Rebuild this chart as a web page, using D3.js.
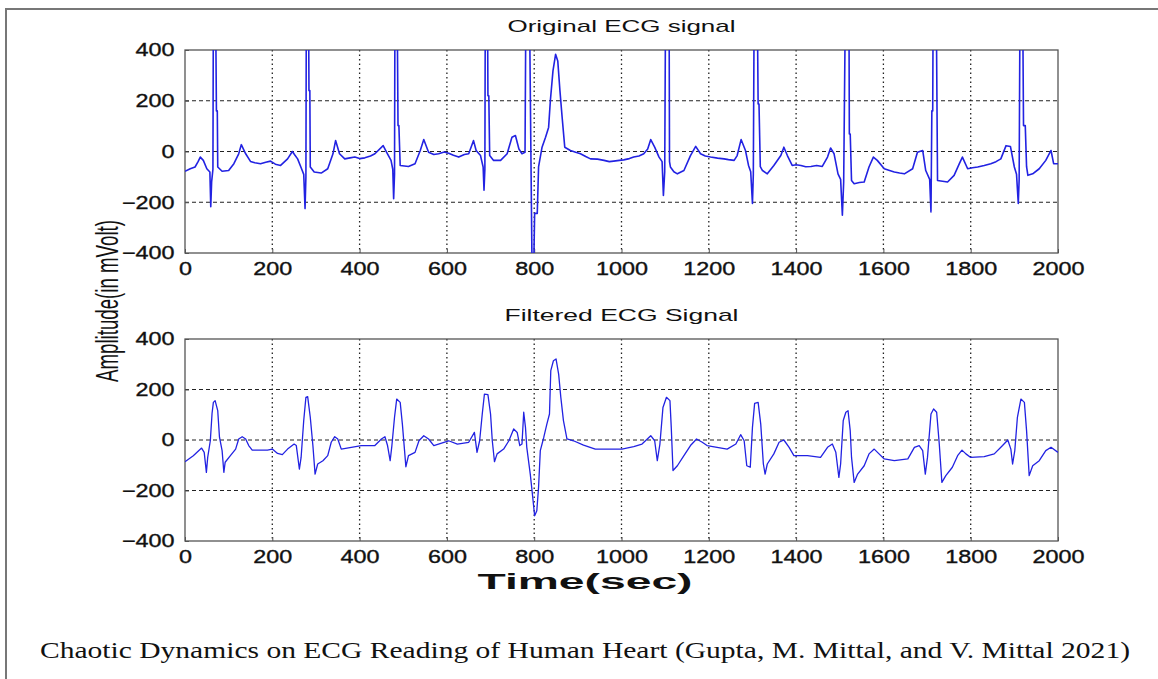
<!DOCTYPE html>
<html>
<head>
<meta charset="utf-8">
<script src="https://cdn.jsdelivr.net/npm/d3@7"></script>
<style>
body { margin: 0; background: #fff; }
.tick text { font-family: "Liberation Sans", Arial, sans-serif; font-size: 18px; fill: #111; stroke: #111; stroke-width: 0.35px; }
</style>
</head>
<body>
<script>
// values (time in samples, amplitude in mV)
var origTime = [0,12,23,30,35,42,50,57,59,61,64,65,70,72,74,75,85,100,112,123,129,139,150,160,173,185,196,207,219,235,246,252,258,267,272,275,277,278,283,284,286,287,296,312,327,339,345,354,366,378,389,400,412,425,435,454,462,472,476,478,480,481,486,488,490,493,512,527,539,547,558,570,581,594,604,615,627,640,650,661,667,677,683,685,687,688,693,694,696,698,707,723,738,749,757,765,772,779,781,789,793,795,799,801,807,810,818,826,833,837,843,849,854,859,864,870,883,895,906,918,929,945,960,972,982,995,1005,1018,1028,1040,1051,1060,1067,1076,1086,1093,1096,1099,1101,1109,1110,1112,1120,1128,1143,1158,1170,1181,1192,1204,1220,1235,1245,1258,1265,1274,1284,1291,1296,1300,1302,1304,1311,1313,1315,1318,1323,1334,1349,1365,1372,1380,1391,1400,1411,1422,1434,1447,1460,1472,1479,1487,1496,1502,1506,1509,1513,1521,1522,1524,1527,1533,1545,1556,1567,1577,1586,1602,1614,1625,1637,1648,1667,1678,1690,1697,1706,1709,1711,1713,1714,1721,1724,1747,1762,1774,1781,1793,1804,1816,1831,1846,1858,1869,1881,1891,1900,1905,1909,1911,1913,1919,1921,1925,1928,1931,1942,1957,1972,1984,1990,2000];
var origAmp = [-78,-68,-61,-40,-22,-35,-68,-81,-218,-120,-70,600,600,160,160,-61,-78,-75,-48,-9,27,-9,-39,-44,-48,-42,-38,-50,-55,-29,0,-15,-29,-68,-90,-225,-100,600,600,240,240,-61,-81,-85,-68,-9,43,-9,-29,-25,-22,-28,-25,-18,-9,23,-3,-35,-70,-186,-90,600,600,102,102,-55,-59,-48,4,47,-3,-12,-9,-2,-7,-15,-22,-12,-9,43,4,-16,-61,-153,-70,600,600,220,220,-16,-35,-35,-9,56,63,10,-9,-3,600,600,-100,-450,-450,-244,-244,-61,17,56,95,200,318,383,357,239,135,17,4,-3,-9,-20,-29,-30,-35,-40,-38,-35,-33,-28,-22,-18,-9,10,47,17,-22,-40,-173,-80,600,600,-40,-61,-80,-88,-75,-16,20,-9,-18,-22,-26,-29,-32,-35,-16,47,4,-55,-80,-205,-90,600,600,187,187,-60,-75,-88,-55,-16,17,-16,-55,-52,-55,-60,-59,-55,-59,-22,14,-9,-88,-110,-251,-120,600,600,69,69,-114,-127,-122,-120,-61,-22,-35,-68,-75,-81,-85,-88,-68,-3,4,-75,-110,-238,160,160,600,600,-114,-120,-94,-48,-22,-68,-64,-61,-55,-48,-40,-29,23,20,-61,-90,-205,-110,600,600,102,102,-60,-94,-88,-68,-35,4,-48,-48];

var filtTime = [0,19,38,44,49,52,58,62,65,69,75,79,85,89,92,104,116,123,131,139,146,154,189,200,212,223,235,250,255,262,266,272,277,281,287,293,298,304,316,327,335,343,350,358,381,404,435,450,458,464,470,474,480,485,493,498,503,506,512,527,536,547,558,570,604,624,650,663,669,675,681,686,694,700,704,709,715,730,742,753,761,767,772,776,780,783,791,795,801,806,810,814,822,829,835,838,844,850,856,861,867,875,890,913,940,974,1001,1028,1047,1067,1076,1082,1088,1095,1103,1111,1114,1118,1128,1143,1158,1172,1185,1196,1219,1242,1262,1273,1281,1287,1295,1300,1305,1313,1319,1325,1329,1334,1349,1361,1372,1384,1395,1426,1456,1472,1483,1491,1498,1502,1508,1514,1519,1524,1527,1533,1541,1556,1567,1579,1590,1602,1625,1656,1671,1682,1690,1696,1701,1709,1715,1722,1728,1734,1743,1758,1770,1780,1789,1800,1831,1854,1873,1885,1892,1896,1901,1907,1915,1923,1928,1934,1942,1957,1972,1984,2000];
var filtAmp = [-86,-62,-32,-49,-128,-69,-3,106,149,156,116,11,-42,-128,-88,-62,-36,4,13,4,-22,-40,-40,-36,-53,-58,-36,-16,-22,-115,-69,77,169,172,90,-22,-135,-95,-82,-62,-9,13,4,-36,-29,-22,-22,4,13,-22,-82,-22,90,162,149,63,-42,-106,-62,-49,-3,17,4,-22,-3,-16,-9,30,-49,-3,103,182,180,103,-3,-86,-55,-36,-3,44,30,-22,-16,110,50,-29,-135,-200,-300,-280,-187,-42,11,63,103,275,314,321,261,169,77,4,-3,-20,-36,-36,-36,-26,-16,17,-3,-82,-16,129,169,156,50,-121,-102,-62,-22,4,-9,-22,-29,-36,-16,21,-3,-102,-108,50,145,149,63,-95,-135,-95,-55,-9,0,-29,-62,-62,-69,-29,-16,-49,-148,-95,77,110,116,37,-69,-168,-135,-102,-55,-36,-55,-75,-82,-75,-29,-22,-42,-135,-69,103,123,110,-16,-168,-141,-108,-62,-40,-55,-69,-66,-55,-22,0,-36,-95,-42,90,162,149,37,-141,-102,-82,-42,-29,-49];

var xTicks = [0,200,400,600,800,1000,1200,1400,1600,1800,2000];
var yTicks = [-400,-200,0,200,400];
var panelTitles = ["Original ECG signal", "Filtered ECG Signal"];

var W = 1158, H = 679;
var left = 185, right = 1058;
var panels = [
  {top: 50, bottom: 253, time: origTime, amp: origAmp, title: panelTitles[0], titleLen: 228, width: 1.6},
  {top: 339, bottom: 541, time: filtTime, amp: filtAmp, title: panelTitles[1], titleLen: 234, width: 1.3}
];

var svg = d3.select("body").append("svg")
    .attr("width", W)
    .attr("height", H);

// outer frame (top and left edges only)
svg.append("path")
    .attr("d", "M6," + H + "V9H" + W)
    .attr("fill", "none")
    .attr("stroke", "#777")
    .attr("stroke-width", 2);

var x = d3.scaleLinear().domain([0, 2000]).range([left, right]);

panels.forEach(function(p, k) {
    var y = d3.scaleLinear().domain([-400, 400]).range([p.bottom, p.top]);

    var clipId = "clip" + k;
    svg.append("clipPath").attr("id", clipId)
      .append("rect")
        .attr("x", left).attr("y", p.top)
        .attr("width", right - left).attr("height", p.bottom - p.top);

    // grid
    var grid = svg.append("g").attr("class", "grid");
    grid.selectAll(".vg")
        .data(xTicks.slice(1, -1))
      .enter().append("line")
        .attr("x1", function(d) { return x(d); })
        .attr("x2", function(d) { return x(d); })
        .attr("y1", p.top).attr("y2", p.bottom)
        .attr("stroke", "#222")
        .attr("stroke-width", 1.3)
        .attr("stroke-dasharray", "1.5,3");
    grid.selectAll(".hg")
        .data(yTicks.slice(1, -1))
      .enter().append("line")
        .attr("x1", left).attr("x2", right)
        .attr("y1", function(d) { return y(d); })
        .attr("y2", function(d) { return y(d); })
        .attr("stroke", "#222")
        .attr("stroke-width", 1.2)
        .attr("stroke-dasharray", "4,3");

    // axes
    var xAxis = d3.axisBottom(x).tickValues(xTicks).tickFormat(d3.format("d"))
        .tickSizeInner(-4).tickSizeOuter(0).tickPadding(9);
    var yAxis = d3.axisLeft(y).tickValues(yTicks).tickFormat(d3.format("d"))
        .tickSizeInner(-4).tickSizeOuter(0).tickPadding(8);

    var gx = svg.append("g")
        .attr("transform", "translate(0," + p.bottom + ")")
        .call(xAxis);
    var gy = svg.append("g")
        .attr("transform", "translate(" + left + ",0)")
        .call(yAxis);
    [gx, gy].forEach(function(g) {
        g.select(".domain").remove();
        g.selectAll(".tick line").attr("stroke", "#555");
        g.selectAll(".tick text").attr("transform", "scale(1.3,1)");
    });

    // frame
    svg.append("rect")
        .attr("x", left).attr("y", p.top)
        .attr("width", right - left).attr("height", p.bottom - p.top)
        .attr("fill", "none")
        .attr("stroke", "#555")
        .attr("stroke-width", 1.3);

    // signal
    var line = d3.line()
        .x(function(d, i) { return x(p.time[i]); })
        .y(function(d) { return y(d); });

    svg.append("path")
        .datum(p.amp)
        .attr("clip-path", "url(#" + clipId + ")")
        .attr("d", line)
        .attr("fill", "none")
        .attr("stroke", "#2222e2")
        .attr("stroke-width", p.width)
        .attr("stroke-linejoin", "round");

    svg.append("text")
        .attr("x", (left + right) / 2)
        .attr("y", p.top - 18)
        .attr("text-anchor", "middle")
        .attr("textLength", p.titleLen)
        .attr("lengthAdjust", "spacingAndGlyphs")
        .style("font-family", "'Liberation Sans', Arial, sans-serif")
        .style("font-size", "17px")
        .style("fill", "#111")
        .text(p.title);
});

// axis labels
svg.append("text")
    .attr("transform", "translate(118,301) rotate(-90)")
    .attr("text-anchor", "middle")
    .attr("textLength", 162)
    .attr("lengthAdjust", "spacingAndGlyphs")
    .style("font-family", "'Liberation Sans Narrow', 'Liberation Sans', Arial, sans-serif")
    .style("font-size", "31px")
    .style("fill", "#111")
    .text("Amplitude(in mVolt)");

svg.append("text")
    .attr("x", 585)
    .attr("y", 589)
    .attr("text-anchor", "middle")
    .attr("textLength", 215)
    .attr("lengthAdjust", "spacingAndGlyphs")
    .style("font-family", "'Liberation Sans', Arial, sans-serif")
    .style("font-size", "22px")
    .style("font-weight", "bold")
    .style("fill", "#111")
    .text("Time(sec)");

// caption
svg.append("text")
    .attr("x", 585)
    .attr("y", 658)
    .attr("text-anchor", "middle")
    .attr("textLength", 1090)
    .attr("lengthAdjust", "spacingAndGlyphs")
    .style("font-family", "'Liberation Serif', 'DejaVu Serif', serif")
    .style("font-size", "24px")
    .style("fill", "#111")
    .text("Chaotic Dynamics on ECG Reading of Human Heart (Gupta, M. Mittal, and V. Mittal 2021)");
</script>
</body>
</html>
